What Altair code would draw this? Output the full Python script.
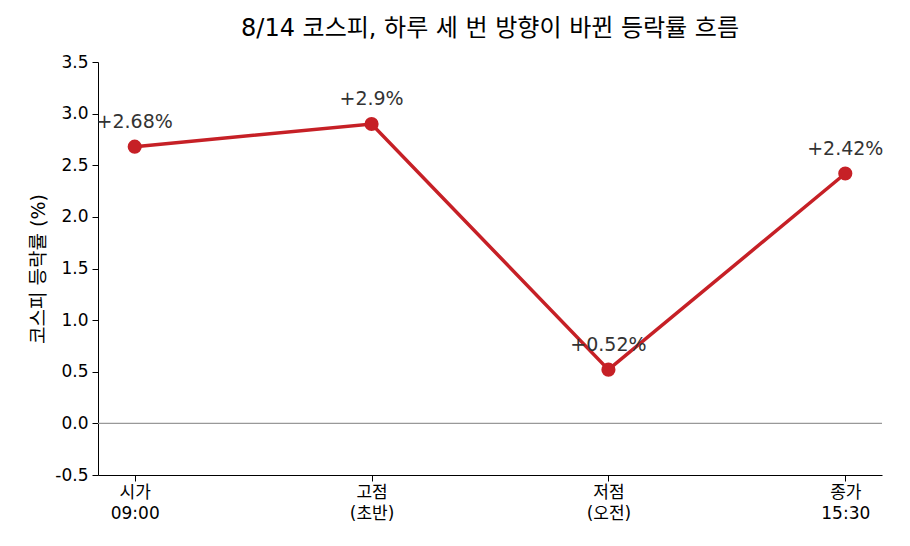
import altair as alt
import pandas as pd

categories = ["시가\n09:00", "고점\n(초반)", "저점\n(오전)", "종가\n15:30"]
values = [2.68, 2.9, 0.52, 2.42]
labels = ["+2.68%", "+2.9%", "+0.52%", "+2.42%"]
y_ticks = [-0.5, 0, 0.5, 1.0, 1.5, 2.0, 2.5, 3.0, 3.5]

df = pd.DataFrame({"cat": categories, "val": values, "lab": labels})
zero = pd.DataFrame({"z": [0.0]})

FONT = "DejaVu Sans, Noto Sans CJK KR"
RED = "#c62026"

x = alt.X("cat:N", sort=categories, title=None,
          scale=alt.Scale(type="point", padding=0.155),
          axis=alt.Axis(labelAngle=0, labelExpr="split(datum.label, '\\n')",
                        labelFontSize=17, labelColor="#000", labelFont=FONT,
                        domainColor="#000", tickColor="#000", tickSize=6,
                        labelPadding=3, labelLineHeight=21))
y = alt.Y("val:Q", title="코스피 등락률 (%)",
          scale=alt.Scale(domain=[-0.5, 3.5], nice=False, zero=False),
          axis=alt.Axis(values=y_ticks,
                        labelExpr="datum.value < 0 ? '-' + format(-datum.value, '.1f') : format(datum.value, '.1f')",
                        grid=False, labelFontSize=17,
                        labelColor="#000", labelFont=FONT, domainColor="#000",
                        tickColor="#000", tickSize=6, labelPadding=4,
                        titleFontSize=19, titleFont=FONT,
                        titleFontWeight="normal", titleColor="#000",
                        titlePadding=6))

rule = alt.Chart(zero).mark_rule(color="#999999", strokeWidth=1.2).encode(y="z:Q")
line = alt.Chart(df).mark_line(color=RED, strokeWidth=3.5).encode(x=x, y=y)
pts = alt.Chart(df).mark_point(filled=True, color=RED, size=200, opacity=1).encode(x=x, y=y)
txt = alt.Chart(df).mark_text(dy=-25, fontSize=19, font=FONT, color="#333333").encode(
    x=x, y=y, text="lab:N")

chart = alt.layer(rule, line, pts, txt).properties(
    width=784, height=413,
    autosize=alt.AutoSizeParams(type="none"),
    padding={"left": 90, "top": 54, "right": 20, "bottom": 63},
    title=alt.TitleParams("8/14 코스피, 하루 세 번 방향이 바뀐 등락률 흐름",
                          fontSize=24, font=FONT, fontWeight="normal",
                          color="#000", offset=12, anchor="middle"),
).configure_view(stroke=None)

chart.save("out.html", embed_options={"renderer": "svg", "actions": False})
